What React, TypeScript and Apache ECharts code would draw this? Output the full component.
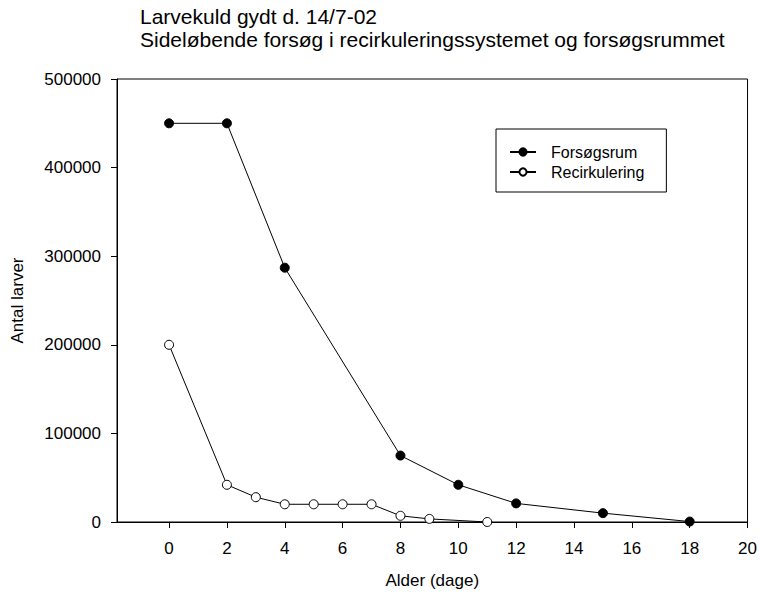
import React, { useEffect, useRef } from "react";
import * as echarts from "echarts";

// Age (days) and larval counts for each rearing setup
const forsogsrumDays = [0, 2, 4, 8, 10, 12, 15, 18];
const forsogsrumCounts = [450000, 450000, 287000, 75000, 42000, 21000, 10000, 500];

const recirkDays = [0, 2, 3, 4, 5, 6, 7, 8, 9, 11];
const recirkCounts = [200000, 42000, 28000, 20000, 20000, 20000, 20000, 7000, 3500, 0];

const xTickValues = [0, 2, 4, 6, 8, 10, 12, 14, 16, 18, 20];

const titleLines = [
  "Larvekuld gydt d. 14/7-02",
  "Sideløbende forsøg i recirkuleringssystemet og forsøgsrummet",
];

const FONT = "'Liberation Sans', Arial, Helvetica, sans-serif";

export default function App() {
  const ref = useRef<HTMLDivElement>(null);

  useEffect(() => {
    if (!ref.current) return;
    const chart = echarts.init(ref.current, null, { renderer: "svg" });

    const pair = (xs: number[], ys: number[]) => xs.map((x, i) => [x, ys[i]]);

    chart.setOption({
      animation: false,
      backgroundColor: "#fff",
      textStyle: { fontFamily: FONT, color: "#000" },
      title: {
        text: titleLines.join("\n"),
        left: 140,
        top: 5,
        padding: 0,
        textStyle: {
          fontFamily: FONT,
          fontSize: 21,
          fontWeight: "normal",
          color: "#000",
          lineHeight: 23,
        },
      },
      grid: {
        left: 117,
        right: 11,
        top: 79,
        bottom: 75,
        show: true,
        borderColor: "#000",
        borderWidth: 1,
        backgroundColor: "transparent",
      },
      legend: {
        orient: "vertical",
        left: 496,
        top: 129,
        padding: [15, 22, 12, 13],
        itemGap: 4,
        itemWidth: 26,
        itemHeight: 9,
        borderColor: "#000",
        borderWidth: 1,
        textStyle: {
          fontFamily: FONT,
          fontSize: 16,
          color: "#000",
          padding: [0, 0, 0, 10],
        },
        data: ["Forsøgsrum", "Recirkulering"],
      },
      xAxis: {
        type: "value",
        min: -1.8,
        max: 20,
        name: "Alder (dage)",
        nameLocation: "middle",
        nameGap: 50,
        nameTextStyle: { fontFamily: FONT, fontSize: 17, color: "#000" },
        axisLine: { show: true, onZero: false, lineStyle: { color: "#000", width: 1 } },
        axisTick: {
          show: true,
          inside: false,
          length: 6,
          customValues: xTickValues,
          lineStyle: { color: "#000", width: 1 },
        },
        axisLabel: {
          customValues: xTickValues,
          margin: 18,
          fontFamily: FONT,
          fontSize: 17,
          color: "#000",
        },
        splitLine: { show: false },
      },
      yAxis: {
        type: "value",
        min: 0,
        max: 500000,
        interval: 100000,
        name: "Antal larver",
        nameLocation: "middle",
        nameGap: 91,
        nameTextStyle: { fontFamily: FONT, fontSize: 17, color: "#000" },
        axisLine: { show: true, onZero: false, lineStyle: { color: "#000", width: 1 } },
        axisTick: { show: true, inside: false, length: 6, lineStyle: { color: "#000", width: 1 } },
        axisLabel: {
          margin: 16,
          fontFamily: FONT,
          fontSize: 17,
          color: "#000",
          formatter: (v: number) => String(v),
        },
        splitLine: { show: false },
      },
      series: [
        {
          name: "Forsøgsrum",
          type: "line",
          data: pair(forsogsrumDays, forsogsrumCounts),
          symbol: "circle",
          symbolSize: 9,
          lineStyle: { color: "#000", width: 1 },
          itemStyle: { color: "#000", borderColor: "#000", borderWidth: 1 },
          z: 3,
        },
        {
          name: "Recirkulering",
          type: "line",
          data: pair(recirkDays, recirkCounts),
          symbol: "circle",
          symbolSize: 9,
          lineStyle: { color: "#000", width: 1 },
          itemStyle: { color: "#fff", borderColor: "#000", borderWidth: 1 },
          z: 3,
        },
      ],
    });

    return () => chart.dispose();
  }, []);

  return (
    <div
      ref={ref}
      style={{ position: "fixed", left: 0, top: 0, width: 760, height: 597 }}
    />
  );
}
